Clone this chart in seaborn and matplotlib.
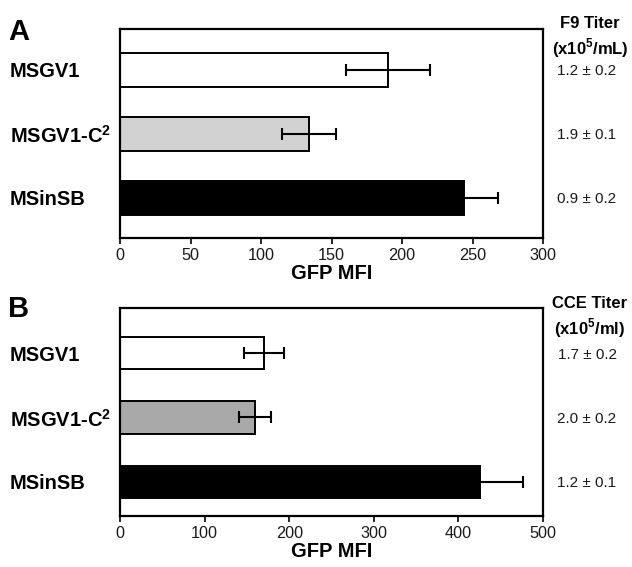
import numpy as np
import pandas as pd
import matplotlib
matplotlib.use('Agg')
import matplotlib.pyplot as plt
import matplotlib.transforms as mtransforms
import seaborn as sns

sns.set_style('white')
plt.rcParams['font.family'] = ['Liberation Sans', 'DejaVu Sans']
plt.rcParams['text.color'] = 'black'
plt.rcParams['axes.labelcolor'] = 'black'
plt.rcParams['mathtext.fontset'] = 'custom'
plt.rcParams['mathtext.rm'] = 'Liberation Sans'
plt.rcParams['mathtext.bf'] = 'Liberation Sans:bold'

# 데이터
vectors = ['MSGV1', 'MSGV1-C²', 'MSinSB']
labels = ['MSGV1', r'MSGV1-C$^{\mathbf{2}}$', 'MSinSB']
mfi_f9 = [190, 134, 244]
err_f9 = [30, 19, 24]
titer_f9 = ['1.2 ± 0.2', '1.9 ± 0.1', '0.9 ± 0.2']
mfi_cce = [170, 160, 426]
err_cce = [24, 19, 50]
titer_cce = ['1.7 ± 0.2', '2.0 ± 0.2', '1.2 ± 0.1']

colors_a = ['#ffffff', '#d2d2d2', '#000000']
colors_b = ['#ffffff', '#a9a9a9', '#000000']

W, H = 632, 567

panels = [
    dict(letter='A', mfi=mfi_f9, err=err_f9, titer=titer_f9, colors=colors_a,
         head=['F9 Titer', r'(x10$^{\mathbf{5}}$/mL)'], xmax=300, step=50,
         top=29, bottom=238, ylim=(2.625, -0.64), width=0.52,
         letter_y=40, head_y=(21.5, 45)),
    dict(letter='B', mfi=mfi_cce, err=err_cce, titer=titer_cce, colors=colors_b,
         head=['CCE Titer', r'(x10$^{\mathbf{5}}$/ml)'], xmax=500, step=100,
         top=308, bottom=516, ylim=(2.53, -0.70), width=0.50,
         letter_y=317, head_y=(302, 325)),
]

fig = plt.figure(figsize=(W / 100, H / 100), dpi=100)

for p in panels:
    rect = [120 / W, 1 - p['bottom'] / H, 423 / W, (p['bottom'] - p['top']) / H]
    ax = fig.add_axes(rect)
    df = pd.DataFrame({'Vector': vectors, 'MFI': p['mfi']})
    sns.barplot(data=df, x='MFI', y='Vector', hue='Vector', order=vectors,
                palette=p['colors'], edgecolor='black', linewidth=1.4,
                width=p['width'], errorbar=None, legend=False, ax=ax, orient='h')
    ax.errorbar(p['mfi'], np.arange(len(vectors)), xerr=p['err'], fmt='none',
                ecolor='black', elinewidth=1.5, capsize=4.3, capthick=1.5)
    ax.set_xlim(0, p['xmax'])
    ax.set_ylim(*p['ylim'])
    ax.set_xticks(np.arange(0, p['xmax'] + 1, p['step']))
    ax.tick_params(axis='x', direction='out', length=4.5, width=1.4,
                   labelsize=11.7, labelcolor='#1a1a1a', bottom=True, pad=2.5)
    ax.set_yticks([])
    ax.set_ylabel('')
    ax.set_xlabel('GFP MFI', fontsize=14.5, fontweight='bold', labelpad=1)
    for s in ax.spines.values():
        s.set_linewidth(1.6)
        s.set_color('black')

    trans = mtransforms.blended_transform_factory(fig.transFigure, ax.transData)
    for i, name in enumerate(labels):
        ax.text(10 / W, i, name, transform=trans, ha='left',
                va='center_baseline', fontsize=14.5, fontweight='bold')
        ax.text(587 / W, i, p['titer'][i], transform=trans, ha='center',
                va='center_baseline', fontsize=11, color='#1a1a1a')

    fig.text(8 / W, 1 - p['letter_y'] / H, p['letter'], ha='left',
             va='baseline', fontsize=21, fontweight='bold')
    for txt, yy in zip(p['head'], p['head_y']):
        fig.text(590 / W, 1 - yy / H, txt, ha='center', va='center_baseline',
                 fontsize=12, fontweight='bold')

fig.savefig('out.png', dpi=100)
